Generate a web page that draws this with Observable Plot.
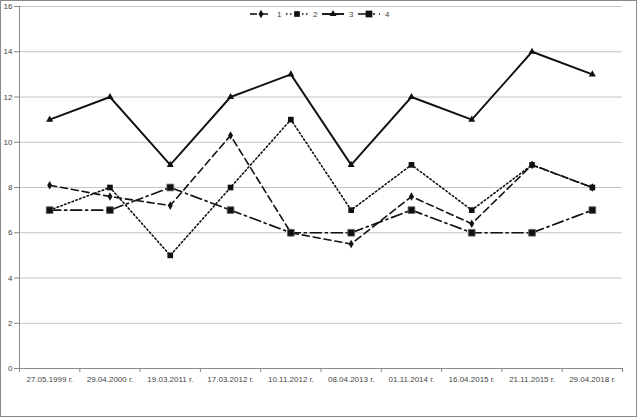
<!DOCTYPE html>
<html><head><meta charset="utf-8">
<script src="https://cdn.jsdelivr.net/npm/d3@7"></script>
<script src="https://cdn.jsdelivr.net/npm/@observablehq/plot@0.6"></script>
<style>
body{margin:0;background:#fff}
#wrap{position:relative;width:637px;height:417px}
#legend{position:absolute;left:248px;top:8px}
</style></head>
<body><div id="wrap"></div>
<script>
const dates = ["27.05.1999 г.","29.04.2000 г.","19.03.2011 г.","17.03.2012 г.","10.11.2012 г.","08.04.2013 г.","01.11.2014 г.","16.04.2015 г.","21.11.2015 г.","29.04.2018 г."];
const series1 = [8.1, 7.6, 7.2, 10.3, 6.0, 5.5, 7.6, 6.4, 9.0, 8.0];
const series2 = [7, 8, 5, 8, 11, 7, 9, 7, 9, 8];
const series3 = [11, 12, 9, 12, 13, 9, 12, 11, 14, 13];
const series4 = [7, 7, 8, 7, 6, 6, 7, 6, 6, 7];
const seriesNames = ["1","2","3","4"];
const yTicks = [0,2,4,6,8,10,12,14,16];

const styles = [
  {dash:"7,4", symbol:"diamond", r:2.6, width:1.6},
  {dash:"1.5,2.5", symbol:"square", r:3.2, width:1.6},
  {dash:null, symbol:"triangle", r:2.6, width:1.9},
  {dash:"11,4,2,4", symbol:"square", r:3.8, width:1.7}
];
const allSeries = [series1, series2, series3, series4];
const rows = [];
allSeries.forEach((s, k) => s.forEach((v, i) => rows.push({series: seriesNames[k], k, i, v})));
const bounds = d3.range(0, dates.length + 1).map(d => d - 0.5);

const marks = [
  Plot.ruleY(yTicks.filter(d => d > 0), {stroke:"#c4c4c4", strokeWidth:1}),
  Plot.axisY({ticks: yTicks, tickSize:5, tickPadding:2, fontSize:8, fill:"#444", stroke:"#888", label:null, fontFamily:"Liberation Sans"}),
  Plot.axisX({ticks: d3.range(dates.length), tickFormat: i => dates[i], tickSize:0, tickPadding:8, fontSize:8, fill:"#444", label:null, fontFamily:"Liberation Sans"}),
  Plot.axisX({ticks: bounds, tickFormat: () => "", tickSize:4, stroke:"#888", label:null}),
  Plot.ruleY([0], {stroke:"#8a8a8a"}),
  Plot.ruleX([-0.5], {stroke:"#8a8a8a"})
];
allSeries.forEach((s, k) => {
  const st = styles[k];
  const data = rows.filter(d => d.k === k);
  marks.push(Plot.line(data, {x:"i", y:"v", stroke:"#111", strokeWidth:st.width, strokeDasharray:st.dash || undefined}));
});
allSeries.forEach((s, k) => {
  const st = styles[k];
  const data = rows.filter(d => d.k === k);
  marks.push(Plot.dot(data, {x:"i", y:"v", symbol:()=>st.symbol, r:st.r, fill:"#111", stroke: k===3 ? "#666" : "none", strokeWidth:0.8}));
});

const chart = Plot.plot({
  width:637, height:417,
  marginLeft:19, marginRight:15, marginTop:6, marginBottom:49,
  x:{type:"linear", domain:[-0.5, dates.length - 0.5], axis:null},
  y:{domain:[0,16], axis:null},
  symbol:{type:"identity"},
  style:{fontFamily:"Liberation Sans", background:"#fff"},
  marks
});
chart.style.outline = "1px solid #8a8a8a";
chart.style.outlineOffset = "-1px";
document.getElementById("wrap").appendChild(chart);

// legend
const leg = d3.select("#wrap").append("svg").attr("id","legend").attr("width",150).attr("height",14);
let x0 = 2;
seriesNames.forEach((name, k) => {
  const st = styles[k];
  const g = leg.append("g").attr("transform", `translate(${x0},6)`);
  g.append("line").attr("x1",0).attr("x2",22).attr("y1",0).attr("y2",0)
    .attr("stroke","#111").attr("stroke-width",st.width).attr("stroke-dasharray", st.dash);
  const sym = {diamond:d3.symbolDiamond, square:d3.symbolSquare, triangle:d3.symbolTriangle}[st.symbol];
  g.append("path").attr("d", d3.symbol(sym, Math.PI*st.r*st.r)()).attr("transform","translate(11,0)").attr("fill","#111");
  g.append("text").attr("x",27).attr("y",3).attr("font-size",8).attr("font-family","Liberation Sans").attr("fill","#444").text(name);
  x0 += 36;
});
</script></body></html>
